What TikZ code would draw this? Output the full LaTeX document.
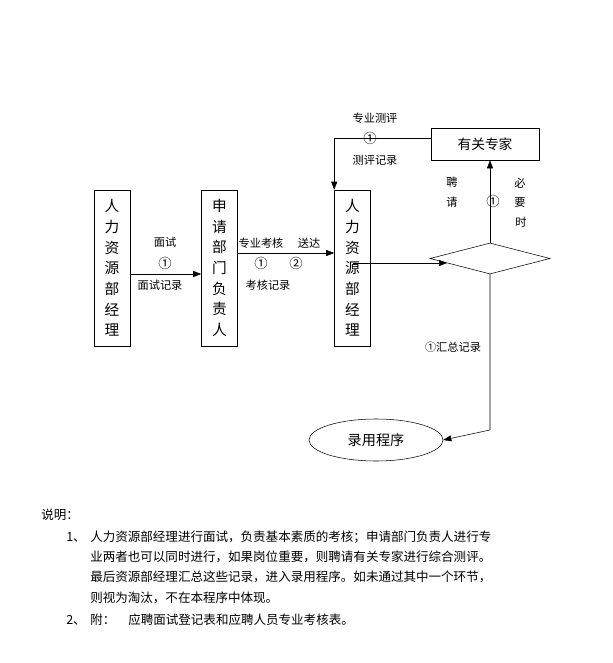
\documentclass[tikz,border=0pt]{standalone}
\usepackage{fontspec}
\setmainfont{Noto Sans CJK SC}
\usetikzlibrary{shapes.geometric,arrows.meta}
\tikzset{
  vbox/.style={draw, minimum width=27pt, minimum height=117pt, inner sep=0pt, align=center, font=\fontsize{11}{15.5}\selectfont},
  lbl/.style={inner sep=0pt, font=\fontsize{8.4}{10}\selectfont},
  num/.style={inner sep=0pt, font=\fontsize{10}{10}\selectfont},
  note/.style={anchor=west, inner sep=0pt, font=\fontsize{9.4}{11}\selectfont},
  arr/.style={-{Triangle[length=6pt,width=4.5pt]}}
}
\begin{document}
\begin{tikzpicture}[x=0.75pt,y=-0.75pt]
    \useasboundingbox (0,0) rectangle (612,663);

    % The three department boxes
    \node[vbox] (hr) at (112,268) {人\\力\\资\\源\\部\\经\\理};
    \node[vbox] (dept) at (219.5,268) {申\\请\\部\\门\\负\\责\\人};
    \node[vbox] (hrmgr) at (352.5,268) {人\\力\\资\\源\\部\\经\\理};

    % The experts, the decision and the hiring step
    \node[draw, minimum width=81pt, minimum height=24pt, font=\fontsize{10.3}{12}\selectfont] (expert) at (485,144) {有关专家};
    \node[diamond, draw, minimum width=90pt, minimum height=23.25pt, inner sep=0pt] (judge) at (490,258.5) {};
    \node[ellipse, draw, minimum width=100.5pt, minimum height=31.5pt, font=\fontsize{10.6}{12}\selectfont] (hire) at (376,440) {录用程序};

    % Interview
    \draw[arr] (hr.east |- 0,274) -- (dept.west |- 0,274);
    \node[lbl] (iv) at (165,242) {面试};
    \node[num] (ivno) at (165,263) {①};
    \node[lbl] (ivrec) at (160,285) {面试记录};

    % Professional check, handed on
    \draw[arr] (dept.east |- 0,253) -- (hrmgr.west |- 0,253);
    \node[lbl] (chk) at (261,243) {专业考核};
    \node[lbl] (send) at (309,243) {送达};
    \node[num] (chkno) at (261,263) {①};
    \node[num] (sendno) at (296,263) {②};
    \node[lbl] (chkrec) at (268,285) {考核记录};

    % Expert review back to the manager
    \draw[arr] (expert.west |- 0,138) -| (hrmgr.north west);
    \node[lbl] (rev) at (375,118) {专业测评};
    \node[num] (revno) at (370,138) {①};
    \node[lbl] (revrec) at (375,160) {测评记录};

    % Manager to the decision
    \draw[arr] (hrmgr.center |- judge.186) -- (judge.186);

    % Invite experts when needed
    \draw[arr] (judge.north) -- (judge.north |- expert.south);
    \node[lbl] (inv1) at (452,182) {聘};
    \node[lbl] (inv2) at (452,202) {请};
    \node[num] (invno) at (493,201) {①};
    \node[lbl] (need1) at (520,183) {必};
    \node[lbl] (need2) at (520,202) {要};
    \node[lbl] (need3) at (521,222) {时};

    % Summary to hiring
    \coordinate (bend) at (judge.south |- 0,430);
    \draw[arr] (judge.south) -- (bend) -- (hire.east);
    \node[lbl] (sum) at (453,347) {①汇总记录};

    % Notes
    \node[note] (n0) at (41,515) {说明：};
    \node[note] (n1) at (66,537) {1、};
    \node[note] (l1) at (90,537) {人力资源部经理进行面试，负责基本素质的考核；申请部门负责人进行专};
    \node[note] (l2) at (90,557) {业两者也可以同时进行，如果岗位重要，则聘请有关专家进行综合测评。};
    \node[note] (l3) at (90,577) {最后资源部经理汇总这些记录，进入录用程序。如未通过其中一个环节，};
    \node[note] (l4) at (90,598) {则视为淘汰，不在本程序中体现。};
    \node[note] (n2) at (66,620) {2、};
    \node[note] (att) at (90,620) {附：};
    \node[note] (l5) at (128,620) {应聘面试登记表和应聘人员专业考核表。};
\end{tikzpicture}
\end{document}
